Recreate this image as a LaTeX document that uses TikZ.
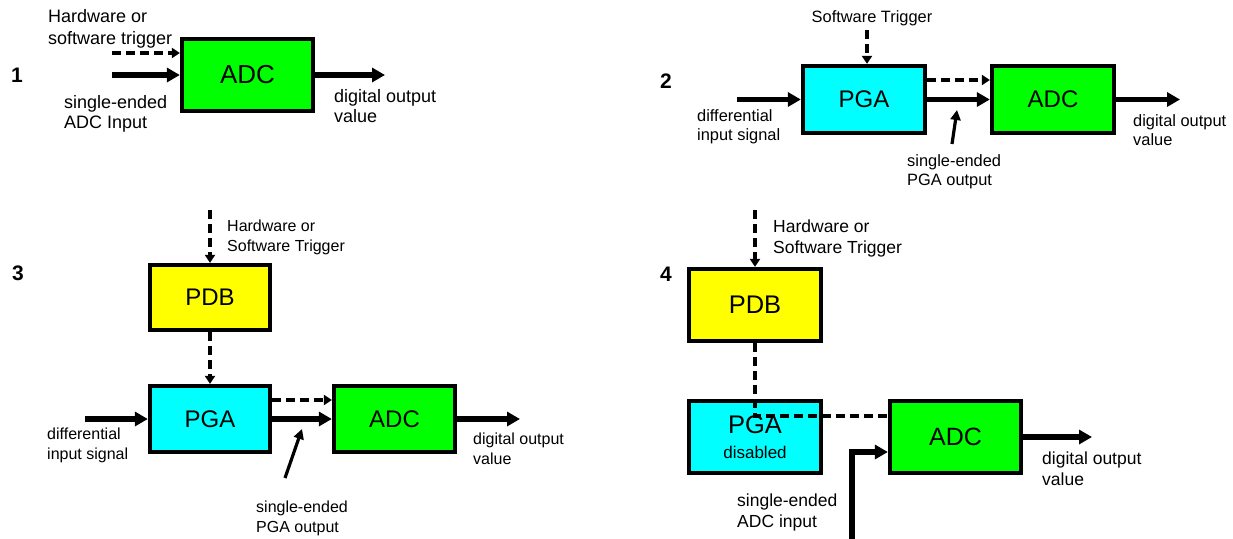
\documentclass[tikz,border=0pt]{standalone}
\usepackage{fontspec}
\setmainfont{Liberation Sans}
\usetikzlibrary{arrows.meta}
\definecolor{adcgreen}{HTML}{00FF00}
\definecolor{pgacyan}{HTML}{00FFFF}
\definecolor{pdbyellow}{HTML}{FFFF00}
\begin{document}
\begin{tikzpicture}[x=1pt,y=-1pt,
  blk/.style={draw=black, line width=3.8pt, inner sep=0pt, align=center},
  sig/.style={line width=5.5pt, -{Triangle[length=13pt,width=14pt]}},
  trig/.style={line width=3.5pt, dash pattern=on 9pt off 5pt, -{Triangle[length=8pt,width=10pt]}},
  trigline/.style={line width=3.5pt, dash pattern=on 9pt off 5pt},
  ptr/.style={line width=3.2pt, -{Triangle[length=10pt,width=10pt]}},
  lbl/.style={anchor=north west, inner sep=0pt, align=left},
  num/.style={font=\bfseries\fontsize{21}{21}\selectfont, inner sep=0pt}
]
\useasboundingbox (0,0) rectangle (1233,538);

% ---------------- Panel 1 ----------------
\node[num] (n1) at (17,75) {1};
\node[blk, fill=adcgreen, minimum width=131.5pt, minimum height=72.5pt,
      font=\fontsize{26}{26}\selectfont] (adc1) at (247.5,75) {ADC};
\coordinate (t1) at (112,53);
\coordinate (i1) at (112,75);
\coordinate (o1) at (385,75);
\draw[trig] (t1) -- (adc1.west |- t1);
\draw[sig] (i1) -- (adc1.west);
\draw[sig] (adc1.east) -- (o1);
\node[lbl, font=\fontsize{18}{22.5}\selectfont] (hw1) at (48,9) {Hardware or\\software trigger};
\node[lbl, font=\fontsize{18}{20.5}\selectfont] (se1) at (64,95) {single-ended\\ADC Input};
\node[lbl, font=\fontsize{18}{20.5}\selectfont] (do1) at (334,89) {digital output\\value};

% ---------------- Panel 2 ----------------
\node[num] (n2) at (666,81) {2};
\node[blk, fill=pgacyan, minimum width=122.5pt, minimum height=67.5pt,
      font=\fontsize{24}{24}\selectfont] (pga2) at (864,99.5) {PGA};
\node[blk, fill=adcgreen, minimum width=122.5pt, minimum height=67.5pt,
      font=\fontsize{24}{24}\selectfont] (adc2) at (1053,99.5) {ADC};
\node[anchor=north, inner sep=0pt, font=\fontsize{16.4}{19}\selectfont] (sw2) at (872,10) {Software Trigger};
\coordinate (t2) at (867,30);
\coordinate (i2) at (737,99.5);
\coordinate (o2) at (1180,99.5);
\coordinate (p2a) at (952,144);
\coordinate (p2b) at (957,110);
\draw[trig] (t2) -- (pga2.north -| t2);
\draw[sig] (i2) -- (pga2.west);
\draw[trig] (pga2.east |- 0,80) -- (adc2.west |- 0,80);
\draw[sig] (pga2.east) -- (adc2.west);
\draw[sig] (adc2.east) -- (o2);
\draw[ptr] (p2a) -- (p2b);
\node[lbl, font=\fontsize{16.4}{19}\selectfont] (di2) at (697,109) {differential\\input signal};
\node[lbl, font=\fontsize{16.4}{19}\selectfont] (se2) at (907,154) {single-ended\\PGA output};
\node[lbl, font=\fontsize{16.4}{19}\selectfont] (do2) at (1133,114) {digital output\\value};

% ---------------- Panel 3 ----------------
\node[num] (n3) at (18,273) {3};
\node[blk, fill=pdbyellow, minimum width=120.5pt, minimum height=65.5pt,
      font=\fontsize{24}{24}\selectfont] (pdb3) at (210,297.5) {PDB};
\node[blk, fill=pgacyan, minimum width=120.5pt, minimum height=66.5pt,
      font=\fontsize{24}{24}\selectfont] (pga3) at (210,419) {PGA};
\node[blk, fill=adcgreen, minimum width=121.5pt, minimum height=66.5pt,
      font=\fontsize{24}{24}\selectfont] (adc3) at (394.5,419) {ADC};
\coordinate (t3) at (210,210);
\coordinate (i3) at (85,419);
\coordinate (o3) at (520,419);
\coordinate (p3a) at (285,478);
\coordinate (p3b) at (302,429);
\draw[trig] (t3) -- (pdb3.north);
\draw[trig] (pdb3.south) -- (pga3.north);
\draw[sig] (i3) -- (pga3.west);
\draw[trig] (pga3.east |- 0,400) -- (adc3.west |- 0,400);
\draw[sig] (pga3.east) -- (adc3.west);
\draw[sig] (adc3.east) -- (o3);
\draw[ptr] (p3a) -- (p3b);
\node[lbl, font=\fontsize{16}{19.5}\selectfont] (hw3) at (227,220) {Hardware or\\Software Trigger};
\node[lbl, font=\fontsize{16}{19.5}\selectfont] (di3) at (47,428) {differential\\input signal};
\node[lbl, font=\fontsize{16}{19.5}\selectfont] (se3) at (256,501) {single-ended\\PGA output};
\node[lbl, font=\fontsize{16}{19.5}\selectfont] (do3) at (473,433) {digital output\\value};

% ---------------- Panel 4 ----------------
\node[num] (n4) at (666,274) {4};
\node[blk, fill=pdbyellow, minimum width=132.5pt, minimum height=72.5pt,
      font=\fontsize{25.5}{25.5}\selectfont] (pdb4) at (755,305) {PDB};
\node[blk, fill=pgacyan, minimum width=132.5pt, minimum height=72.5pt,
      font=\fontsize{25.5}{25}\selectfont] (pga4) at (755,437)
      {PGA\\{\fontsize{17}{25}\selectfont disabled}};
\node[blk, fill=adcgreen, minimum width=131.5pt, minimum height=72.5pt,
      font=\fontsize{25}{25}\selectfont] (adc4) at (955.5,437) {ADC};
\coordinate (t4) at (755,210);
\coordinate (i4) at (852,540);
\coordinate (o4) at (1092,437);
\draw[trig] (t4) -- (pdb4.north);
\draw[trigline] (pdb4.south) |- (adc4.west |- 0,416);
\draw[sig] (i4) |- (adc4.west |- 0,452);
\draw[sig] (adc4.east) -- (o4);
\node[lbl, font=\fontsize{17.5}{20.5}\selectfont] (hw4) at (773,220) {Hardware or\\Software Trigger};
\node[lbl, font=\fontsize{17.5}{21}\selectfont] (se4) at (737,494) {single-ended\\ADC input};
\node[lbl, font=\fontsize{17.5}{20.5}\selectfont] (do4) at (1042,452) {digital output\\value};
\end{tikzpicture}
\end{document}
